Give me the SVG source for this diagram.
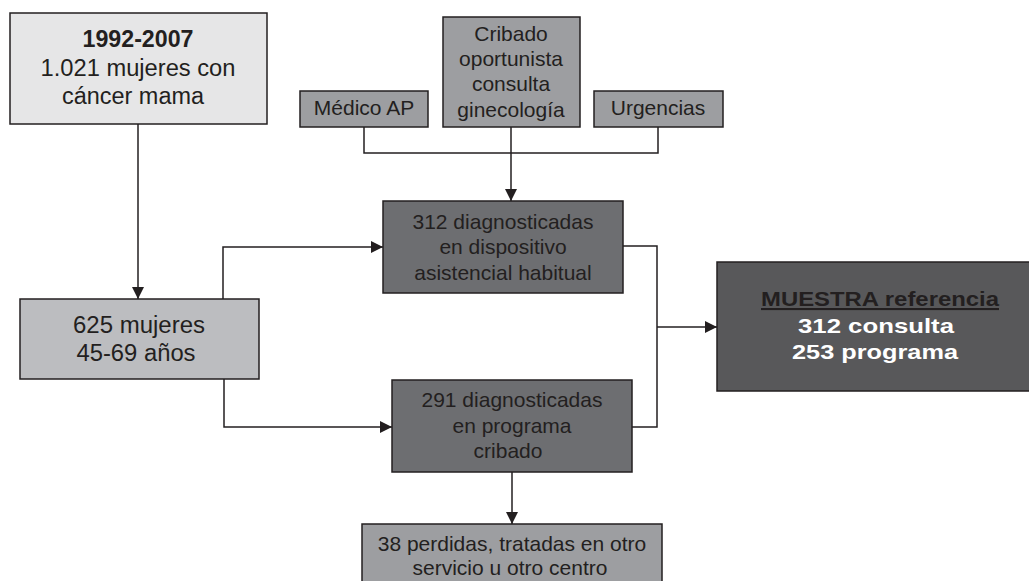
<svg xmlns="http://www.w3.org/2000/svg" width="1029" height="581" viewBox="0 0 1029 581">
<defs>
<style>
.box{stroke:#231f20;stroke-width:1.5}
.t{font-family:"Liberation Sans",Arial,sans-serif;font-size:21px;fill:#231f20;text-anchor:middle}
.big{font-size:23px}
.b{font-weight:bold}
.w{fill:#ffffff}
.ln{fill:none;stroke:#231f20;stroke-width:1.5}
</style>
<marker id="arr" viewBox="0 0 12 12" refX="12" refY="6" markerWidth="12" markerHeight="12" markerUnits="userSpaceOnUse" orient="auto">
<path d="M0,0 L12,6 L0,12 Z" fill="#231f20"/>
</marker>
</defs>
<rect width="1029" height="581" fill="#ffffff"/>

<g id="connectors">
<path class="ln" d="M138,124 V299" marker-end="url(#arr)"/>
<path class="ln" d="M364,127 V153 H658 V127"/>
<path class="ln" d="M511,127 V201" marker-end="url(#arr)"/>
<path class="ln" d="M223,299 V247 H383" marker-end="url(#arr)"/>
<path class="ln" d="M224,379 V427 H392" marker-end="url(#arr)"/>
<path class="ln" d="M623,246 H657 V427 H632"/>
<path class="ln" d="M657,327 H717" marker-end="url(#arr)"/>
<path class="ln" d="M512,472 V524" marker-end="url(#arr)"/>
</g>

<g id="n1">
<rect class="box" x="10" y="13" width="257" height="111" fill="#e6e6e7"/>
<text class="t b big" x="138" y="47" textLength="111" lengthAdjust="spacingAndGlyphs">1992-2007</text>
<text class="t big" x="138" y="76" textLength="195" lengthAdjust="spacingAndGlyphs">1.021 mujeres con</text>
<text class="t big" x="133" y="104" textLength="142" lengthAdjust="spacingAndGlyphs">cáncer mama</text>
</g>

<g id="n-medico">
<rect class="box" x="300" y="91" width="128" height="36" fill="#9d9ea1"/>
<text class="t" x="364" y="115">Médico AP</text>
</g>

<g id="n-cribado-op">
<rect class="box" x="443" y="17" width="137" height="110" fill="#9d9ea1"/>
<text class="t" x="511" y="41">Cribado</text>
<text class="t" x="511" y="66">oportunista</text>
<text class="t" x="511" y="91">consulta</text>
<text class="t" x="511" y="117">ginecología</text>
</g>

<g id="n-urgencias">
<rect class="box" x="594" y="91" width="129" height="36" fill="#9d9ea1"/>
<text class="t" x="658" y="115">Urgencias</text>
</g>

<g id="n-625">
<rect class="box" x="20" y="299" width="239" height="80" fill="#bcbdc0"/>
<text class="t big" x="139" y="333" textLength="132" lengthAdjust="spacingAndGlyphs">625 mujeres</text>
<text class="t big" x="136" y="361" textLength="119" lengthAdjust="spacingAndGlyphs">45-69 años</text>
</g>

<g id="n-312">
<rect class="box" x="383" y="201" width="240" height="92" fill="#6d6e71"/>
<text class="t" x="503" y="229">312 diagnosticadas</text>
<text class="t" x="503" y="254">en dispositivo</text>
<text class="t" x="503" y="280">asistencial habitual</text>
</g>

<g id="n-291">
<rect class="box" x="392" y="380" width="240" height="92" fill="#6d6e71"/>
<text class="t" x="512" y="407">291 diagnosticadas</text>
<text class="t" x="512" y="433">en programa</text>
<text class="t" x="508" y="458">cribado</text>
</g>

<g id="n-38">
<rect class="box" x="362" y="524" width="300" height="70" fill="#9d9ea1"/>
<text class="t" x="512" y="551">38 perdidas, tratadas en otro</text>
<text class="t" x="510" y="575">servicio u otro centro</text>
</g>

<g id="n-muestra">
<rect class="box" x="717" y="262" width="320" height="129" fill="#58585a"/>
<text class="t b" x="880" y="306" textLength="238" lengthAdjust="spacingAndGlyphs" text-decoration="underline">MUESTRA referencia</text>
<text class="t b w" x="876" y="333" textLength="156" lengthAdjust="spacingAndGlyphs">312 consulta</text>
<text class="t b w" x="875" y="359" textLength="166" lengthAdjust="spacingAndGlyphs">253 programa</text>
</g>
</svg>
